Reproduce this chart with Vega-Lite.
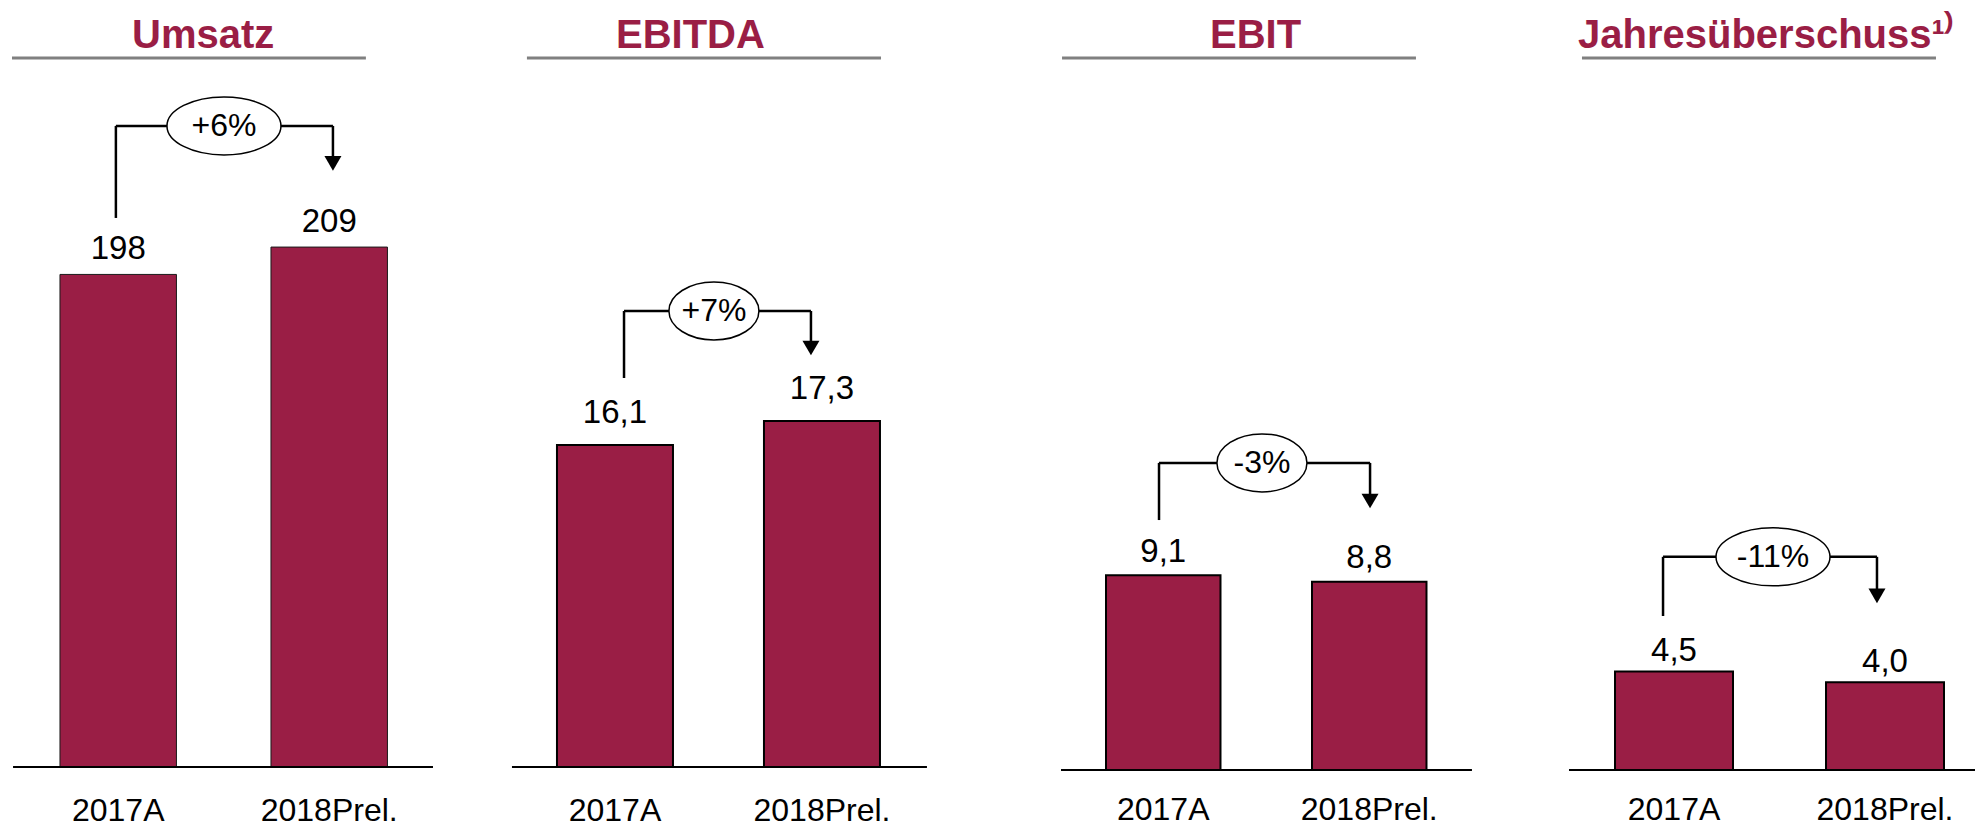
{
  "$schema": "https://vega.github.io/schema/vega-lite/v6.json",
  "background": "white",
  "padding": {"left": 0, "top": 15, "right": 0, "bottom": 0},
  "spacing": 0,
  "config": {
    "font": "Liberation Sans",
    "view": {"stroke": null},
    "axisX": {"domain": false, "ticks": false, "tickSize": 0, "grid": false, "labelPadding": 28, "labelFontSize": 32, "labelColor": "#000000", "labelAngle": 0, "labelFont": "Liberation Sans"},
    "axisY": {"disable": true}
  },
  "datasets": {
    "umsatz": [{"cat": "2017A", "value": 198, "label": "198"}, {"cat": "2018Prel.", "value": 209, "label": "209"}],
    "umsatz_change": [{"change": "+6%"}],
    "ebitda": [{"cat": "2017A", "value": 16.1, "label": "16,1"}, {"cat": "2018Prel.", "value": 17.3, "label": "17,3"}],
    "ebitda_change": [{"change": "+7%"}],
    "ebit": [{"cat": "2017A", "value": 9.1, "label": "9,1"}, {"cat": "2018Prel.", "value": 8.8, "label": "8,8"}],
    "ebit_change": [{"change": "-3%"}],
    "jue": [{"cat": "2017A", "value": 4.5, "label": "4,5"}, {"cat": "2018Prel.", "value": 4.0, "label": "4,0"}],
    "jue_change": [{"change": "-11%"}]
  },
  "hconcat": [
    {
      "width": 472, "height": 709,
      "title": {"text": "Umsatz", "anchor": "start", "frame": "group", "dx": 132, "dy": 45, "offset": 14, "baseline": "alphabetic", "fontSize": 40, "fontWeight": "bold", "color": "#9A1E45", "font": "Liberation Sans"},
      "layer": [
        {"data": {"name": "umsatz"}, "mark": {"type": "bar", "fill": "#9A1E45", "stroke": "#1a1a1a", "strokeWidth": 1},
         "encoding": {"x": {"field": "cat", "type": "nominal", "title": null, "sort": null, "scale": {"domain": ["2017A", "2018Prel."], "paddingInner": 0.448, "paddingOuter": 0.3425, "align": 0.415}},
                      "y": {"field": "value", "type": "quantitative", "axis": null, "scale": {"domain": [0, 285], "nice": false}}}},
        {"data": {"name": "umsatz"}, "mark": {"type": "text", "baseline": "alphabetic", "dy": -15.5, "fontSize": 33, "color": "#000000"},
         "encoding": {"x": {"field": "cat", "type": "nominal", "title": null}, "y": {"field": "value", "type": "quantitative"}, "text": {"field": "label", "type": "nominal"}}},
        {"data": {"name": "umsatz_change"}, "mark": {"type": "rule", "stroke": "#808080", "strokeWidth": 3},
         "encoding": {"x": {"datum": "2017A", "bandPosition": -0.412, "title": null}, "x2": {"datum": "2018Prel.", "bandPosition": 0.815}, "y": {"datum": 285, "type": "quantitative"}}},
        {"data": {"name": "umsatz_change"}, "mark": {"type": "rule", "stroke": "#000000", "strokeWidth": 2},
         "encoding": {"x": {"datum": "2017A", "bandPosition": -0.403, "title": null}, "x2": {"datum": "2018Prel.", "bandPosition": 1.391}, "y": {"datum": 0, "type": "quantitative"}}},
        {"data": {"name": "umsatz_change"}, "mark": {"type": "rule", "stroke": "#000000", "strokeWidth": 2.5},
         "encoding": {"x": {"datum": "2017A", "bandPosition": 0.48, "title": null}, "x2": {"datum": "2018Prel.", "bandPosition": 0.532}, "y": {"datum": 257.7, "type": "quantitative"}}},
        {"data": {"name": "umsatz_change"}, "mark": {"type": "rule", "stroke": "#000000", "strokeWidth": 2.5},
         "encoding": {"x": {"datum": "2017A", "bandPosition": 0.48, "title": null}, "y": {"datum": 257.7, "type": "quantitative"}, "y2": {"datum": 220.7}}},
        {"data": {"name": "umsatz_change"}, "mark": {"type": "rule", "stroke": "#000000", "strokeWidth": 2.5},
         "encoding": {"x": {"datum": "2018Prel.", "bandPosition": 0.532, "title": null}, "y": {"datum": 257.7, "type": "quantitative"}, "y2": {"datum": 243}}},
        {"data": {"name": "umsatz_change"}, "mark": {"type": "point", "shape": "triangle-down", "size": 289, "filled": true, "fill": "#000000", "stroke": null, "opacity": 1},
         "encoding": {"x": {"datum": "2018Prel.", "bandPosition": 0.532, "title": null}, "y": {"datum": 242.6, "type": "quantitative"}}},
        {"data": {"name": "umsatz_change"}, "mark": {"type": "point", "shape": "M 1 0 C 1 0.281 0.5523 0.509 0 0.509 C -0.5523 0.509 -1 0.281 -1 0 C -1 -0.281 -0.5523 -0.509 0 -0.509 C 0.5523 -0.509 1 -0.281 1 0 Z", "size": 12996, "filled": true, "fill": "#ffffff", "stroke": "#000000", "strokeWidth": 1.5, "opacity": 1},
         "encoding": {"x": {"datum": "2017A", "bandPosition": 1.408, "title": null}, "y": {"datum": 257.7, "type": "quantitative"}}},
        {"data": {"name": "umsatz_change"}, "mark": {"type": "text", "baseline": "middle", "align": "center", "fontSize": 32, "color": "#000000"},
         "encoding": {"x": {"datum": "2017A", "bandPosition": 1.408, "title": null}, "y": {"datum": 257.7, "type": "quantitative"}, "text": {"field": "change", "type": "nominal"}}}
      ]
    },
    {
      "width": 522, "height": 709,
      "title": {"text": "EBITDA", "anchor": "start", "frame": "group", "dx": 144, "dy": 45, "offset": 14, "baseline": "alphabetic", "fontSize": 40, "fontWeight": "bold", "color": "#9A1E45", "font": "Liberation Sans"},
      "layer": [
        {"data": {"name": "ebitda"}, "mark": {"type": "bar", "fill": "#9A1E45", "stroke": "#000000", "strokeWidth": 2},
         "encoding": {"x": {"field": "cat", "type": "nominal", "title": null, "sort": null, "scale": {"domain": ["2017A", "2018Prel."], "paddingInner": 0.4396, "paddingOuter": 0.4807, "align": 0.427}},
                      "y": {"field": "value", "type": "quantitative", "axis": null, "scale": {"domain": [0, 35.45], "nice": false}}}},
        {"data": {"name": "ebitda"}, "mark": {"type": "text", "baseline": "alphabetic", "dy": -22, "fontSize": 33, "color": "#000000"},
         "encoding": {"x": {"field": "cat", "type": "nominal", "title": null}, "y": {"field": "value", "type": "quantitative"}, "text": {"field": "label", "type": "nominal"}}},
        {"data": {"name": "ebitda_change"}, "mark": {"type": "rule", "stroke": "#808080", "strokeWidth": 3},
         "encoding": {"x": {"datum": "2017A", "bandPosition": -0.259, "title": null}, "x2": {"datum": "2018Prel.", "bandPosition": 1.009}, "y": {"datum": 35.45, "type": "quantitative"}}},
        {"data": {"name": "ebitda_change"}, "mark": {"type": "rule", "stroke": "#000000", "strokeWidth": 2},
         "encoding": {"x": {"datum": "2017A", "bandPosition": -0.388, "title": null}, "x2": {"datum": "2018Prel.", "bandPosition": 1.405}, "y": {"datum": 0, "type": "quantitative"}}},
        {"data": {"name": "ebitda_change"}, "mark": {"type": "rule", "stroke": "#000000", "strokeWidth": 2.5},
         "encoding": {"x": {"datum": "2017A", "bandPosition": 0.578, "title": null}, "x2": {"datum": "2018Prel.", "bandPosition": 0.405}, "y": {"datum": 22.8, "type": "quantitative"}}},
        {"data": {"name": "ebitda_change"}, "mark": {"type": "rule", "stroke": "#000000", "strokeWidth": 2.5},
         "encoding": {"x": {"datum": "2017A", "bandPosition": 0.578, "title": null}, "y": {"datum": 22.8, "type": "quantitative"}, "y2": {"datum": 19.45}}},
        {"data": {"name": "ebitda_change"}, "mark": {"type": "rule", "stroke": "#000000", "strokeWidth": 2.5},
         "encoding": {"x": {"datum": "2018Prel.", "bandPosition": 0.405, "title": null}, "y": {"datum": 22.8, "type": "quantitative"}, "y2": {"datum": 21.0}}},
        {"data": {"name": "ebitda_change"}, "mark": {"type": "point", "shape": "triangle-down", "size": 289, "filled": true, "fill": "#000000", "stroke": null, "opacity": 1},
         "encoding": {"x": {"datum": "2018Prel.", "bandPosition": 0.405, "title": null}, "y": {"datum": 20.95, "type": "quantitative"}}},
        {"data": {"name": "ebitda_change"}, "mark": {"type": "point", "shape": "M 1 0 C 1 0.356 0.5523 0.644 0 0.644 C -0.5523 0.644 -1 0.356 -1 0 C -1 -0.356 -0.5523 -0.644 0 -0.644 C 0.5523 -0.644 1 -0.356 1 0 Z", "size": 8100, "filled": true, "fill": "#ffffff", "stroke": "#000000", "strokeWidth": 1.5, "opacity": 1},
         "encoding": {"x": {"datum": "2017A", "bandPosition": 1.353, "title": null}, "y": {"datum": 22.8, "type": "quantitative"}}},
        {"data": {"name": "ebitda_change"}, "mark": {"type": "text", "baseline": "middle", "align": "center", "fontSize": 32, "color": "#000000"},
         "encoding": {"x": {"datum": "2017A", "bandPosition": 1.353, "title": null}, "y": {"datum": 22.8, "type": "quantitative"}, "text": {"field": "change", "type": "nominal"}}}
      ]
    },
    {
      "width": 526, "height": 712,
      "title": {"text": "EBIT", "anchor": "start", "frame": "group", "dx": 216, "dy": 45, "offset": 14, "baseline": "alphabetic", "fontSize": 40, "fontWeight": "bold", "color": "#9A1E45", "font": "Liberation Sans"},
      "layer": [
        {"data": {"name": "ebit"}, "mark": {"type": "bar", "fill": "#9A1E45", "stroke": "#000000", "strokeWidth": 2},
         "encoding": {"x": {"field": "cat", "type": "nominal", "title": null, "sort": null, "axis": {"labelPadding": 24}, "scale": {"domain": ["2017A", "2018Prel."], "paddingInner": 0.4442, "paddingOuter": 0.4988, "align": 0.545}},
                      "y": {"field": "value", "type": "quantitative", "axis": null, "scale": {"domain": [0, 33.27], "nice": false}}}},
        {"data": {"name": "ebit"}, "mark": {"type": "text", "baseline": "alphabetic", "dy": -13.5, "fontSize": 33, "color": "#000000"},
         "encoding": {"x": {"field": "cat", "type": "nominal", "title": null}, "y": {"field": "value", "type": "quantitative"}, "text": {"field": "label", "type": "nominal"}}},
        {"data": {"name": "ebit_change"}, "mark": {"type": "rule", "stroke": "#808080", "strokeWidth": 3},
         "encoding": {"x": {"datum": "2017A", "bandPosition": -0.384, "title": null}, "x2": {"datum": "2018Prel.", "bandPosition": 0.908}, "y": {"datum": 33.27, "type": "quantitative"}}},
        {"data": {"name": "ebit_change"}, "mark": {"type": "rule", "stroke": "#000000", "strokeWidth": 2},
         "encoding": {"x": {"datum": "2017A", "bandPosition": -0.393, "title": null}, "x2": {"datum": "2018Prel.", "bandPosition": 1.397}, "y": {"datum": 0, "type": "quantitative"}}},
        {"data": {"name": "ebit_change"}, "mark": {"type": "rule", "stroke": "#000000", "strokeWidth": 2.5},
         "encoding": {"x": {"datum": "2017A", "bandPosition": 0.463, "title": null}, "x2": {"datum": "2018Prel.", "bandPosition": 0.507}, "y": {"datum": 14.35, "type": "quantitative"}}},
        {"data": {"name": "ebit_change"}, "mark": {"type": "rule", "stroke": "#000000", "strokeWidth": 2.5},
         "encoding": {"x": {"datum": "2017A", "bandPosition": 0.463, "title": null}, "y": {"datum": 14.35, "type": "quantitative"}, "y2": {"datum": 11.68}}},
        {"data": {"name": "ebit_change"}, "mark": {"type": "rule", "stroke": "#000000", "strokeWidth": 2.5},
         "encoding": {"x": {"datum": "2018Prel.", "bandPosition": 0.507, "title": null}, "y": {"datum": 14.35, "type": "quantitative"}, "y2": {"datum": 12.6}}},
        {"data": {"name": "ebit_change"}, "mark": {"type": "point", "shape": "triangle-down", "size": 289, "filled": true, "fill": "#000000", "stroke": null, "opacity": 1},
         "encoding": {"x": {"datum": "2018Prel.", "bandPosition": 0.507, "title": null}, "y": {"datum": 12.57, "type": "quantitative"}}},
        {"data": {"name": "ebit_change"}, "mark": {"type": "point", "shape": "M 1 0 C 1 0.356 0.5523 0.644 0 0.644 C -0.5523 0.644 -1 0.356 -1 0 C -1 -0.356 -0.5523 -0.644 0 -0.644 C 0.5523 -0.644 1 -0.356 1 0 Z", "size": 8100, "filled": true, "fill": "#ffffff", "stroke": "#000000", "strokeWidth": 1.5, "opacity": 1},
         "encoding": {"x": {"datum": "2017A", "bandPosition": 1.362, "title": null}, "y": {"datum": 14.35, "type": "quantitative"}}},
        {"data": {"name": "ebit_change"}, "mark": {"type": "text", "baseline": "middle", "align": "center", "fontSize": 32, "color": "#000000"},
         "encoding": {"x": {"datum": "2017A", "bandPosition": 1.362, "title": null}, "y": {"datum": 14.35, "type": "quantitative"}, "text": {"field": "change", "type": "nominal"}}}
      ]
    },
    {
      "width": 455, "height": 712,
      "title": {"text": "Jahresüberschuss¹⁾", "anchor": "start", "frame": "group", "dx": 58, "dy": 45, "offset": 14, "baseline": "alphabetic", "fontSize": 40, "fontWeight": "bold", "color": "#9A1E45", "font": "Liberation Sans"},
      "layer": [
        {"data": {"name": "jue"}, "mark": {"type": "bar", "fill": "#9A1E45", "stroke": "#000000", "strokeWidth": 2},
         "encoding": {"x": {"field": "cat", "type": "nominal", "title": null, "sort": null, "axis": {"labelPadding": 24}, "scale": {"domain": ["2017A", "2018Prel."], "paddingInner": 0.4408, "paddingOuter": 0.2986, "align": 0.754}},
                      "y": {"field": "value", "type": "quantitative", "axis": null, "scale": {"domain": [0, 32.5], "nice": false}}}},
        {"data": {"name": "jue"}, "mark": {"type": "text", "baseline": "alphabetic", "dy": -10, "fontSize": 33, "color": "#000000"},
         "encoding": {"x": {"field": "cat", "type": "nominal", "title": null}, "y": {"field": "value", "type": "quantitative"}, "text": {"field": "label", "type": "nominal"}}},
        {"data": {"name": "jue_change"}, "mark": {"type": "rule", "stroke": "#808080", "strokeWidth": 3},
         "encoding": {"x": {"datum": "2017A", "bandPosition": -0.28, "title": null}, "x2": {"datum": "2018Prel.", "bandPosition": 0.932}, "y": {"datum": 32.5, "type": "quantitative"}}},
        {"data": {"name": "jue_change"}, "mark": {"type": "rule", "stroke": "#000000", "strokeWidth": 2},
         "encoding": {"x": {"datum": "2017A", "bandPosition": -0.39, "title": null}, "x2": {"datum": "2018Prel.", "bandPosition": 1.27}, "y": {"datum": 0, "type": "quantitative"}}},
        {"data": {"name": "jue_change"}, "mark": {"type": "rule", "stroke": "#000000", "strokeWidth": 2.5},
         "encoding": {"x": {"datum": "2017A", "bandPosition": 0.407, "title": null}, "x2": {"datum": "2018Prel.", "bandPosition": 0.432}, "y": {"datum": 9.73, "type": "quantitative"}}},
        {"data": {"name": "jue_change"}, "mark": {"type": "rule", "stroke": "#000000", "strokeWidth": 2.5},
         "encoding": {"x": {"datum": "2017A", "bandPosition": 0.407, "title": null}, "y": {"datum": 9.73, "type": "quantitative"}, "y2": {"datum": 7.03}}},
        {"data": {"name": "jue_change"}, "mark": {"type": "rule", "stroke": "#000000", "strokeWidth": 2.5},
         "encoding": {"x": {"datum": "2018Prel.", "bandPosition": 0.432, "title": null}, "y": {"datum": 9.73, "type": "quantitative"}, "y2": {"datum": 8.0}}},
        {"data": {"name": "jue_change"}, "mark": {"type": "point", "shape": "triangle-down", "size": 289, "filled": true, "fill": "#000000", "stroke": null, "opacity": 1},
         "encoding": {"x": {"datum": "2018Prel.", "bandPosition": 0.432, "title": null}, "y": {"datum": 7.95, "type": "quantitative"}}},
        {"data": {"name": "jue_change"}, "mark": {"type": "point", "shape": "M 1 0 C 1 0.281 0.5523 0.509 0 0.509 C -0.5523 0.509 -1 0.281 -1 0 C -1 -0.281 -0.5523 -0.509 0 -0.509 C 0.5523 -0.509 1 -0.281 1 0 Z", "size": 12996, "filled": true, "fill": "#ffffff", "stroke": "#000000", "strokeWidth": 1.5, "opacity": 1},
         "encoding": {"x": {"datum": "2017A", "bandPosition": 1.339, "title": null}, "y": {"datum": 9.73, "type": "quantitative"}}},
        {"data": {"name": "jue_change"}, "mark": {"type": "text", "baseline": "middle", "align": "center", "fontSize": 32, "color": "#000000"},
         "encoding": {"x": {"datum": "2017A", "bandPosition": 1.339, "title": null}, "y": {"datum": 9.73, "type": "quantitative"}, "text": {"field": "change", "type": "nominal"}}}
      ]
    }
  ]
}
